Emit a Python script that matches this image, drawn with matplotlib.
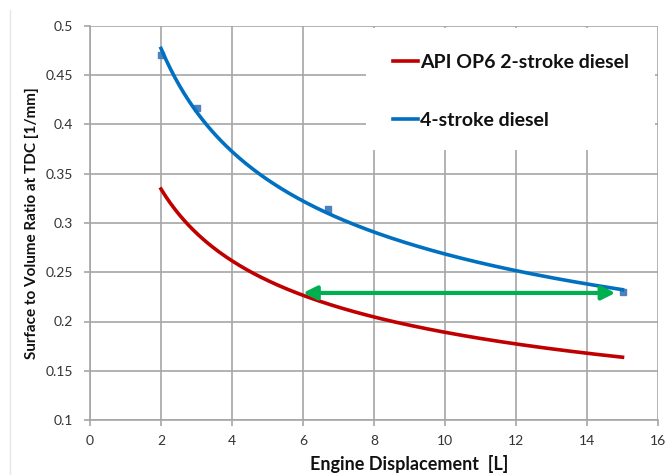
import numpy as np
import matplotlib
matplotlib.use("Agg")
import matplotlib.pyplot as plt
from matplotlib.patches import Rectangle

# values
x_2stroke = [2, 3, 4, 6, 8, 10, 12, 15]
y_2stroke = [0.334, 0.289, 0.262, 0.228, 0.205, 0.189, 0.176, 0.164]

x_4stroke = [2, 3, 6.7, 15]
y_4stroke = [0.471, 0.417, 0.314, 0.230]

arrow_x = [6.0, 14.8]
arrow_y = 0.229

label_2 = "API OP6 2-stroke diesel"
label_4 = "4-stroke diesel"

RED = "#c00000"
BLUE = "#0070c0"
GREEN = "#00b050"
GRID = "#a6a6a6"
TXT = "#333333"

plt.rcParams['font.family'] = ['Lato', 'DejaVu Sans']


def power_trend(xs, ys):
	# excel style power trendline  y = a*x^b
	b, lna = np.polyfit(np.log(xs), np.log(ys), 1)
	xx = np.linspace(min(xs), max(xs), 200)
	return xx, np.exp(lna) * xx ** b


fig = plt.figure(figsize=(6.65, 4.75), dpi=100)
ax = fig.add_axes([90/665, 1-420/475, 568/665, 394/475])

# thin border of the chart area on the left
fig.add_artist(plt.Line2D([10/665, 10/665], [0, 1-10/475], color="#e6e6e6", lw=1))

ax.set_xlim(0, 16)
ax.set_ylim(0.1, 0.5)
ax.set_xticks(np.arange(0, 17, 2))
ax.set_yticks([0.1, 0.15, 0.2, 0.25, 0.3, 0.35, 0.4, 0.45, 0.5])
ax.set_yticklabels(["0.1", "0.15", "0.2", "0.25", "0.3", "0.35", "0.4", "0.45", "0.5"])
ax.grid(True, color=GRID, lw=1.2, zorder=0)
ax.set_axisbelow(True)
for s in ["top", "right"]:
	ax.spines[s].set_visible(False)
for s in ["left", "bottom"]:
	ax.spines[s].set_color(GRID)
	ax.spines[s].set_linewidth(1.2)
ax.tick_params(colors=GRID, labelcolor=TXT, labelsize=10, length=4, width=1.2)
ax.tick_params(axis="y", pad=8)
ax.tick_params(axis="x", pad=7)

# white box behind the legend hides the grid there
ax.add_patch(Rectangle((0.486, 0.685), 0.508, 0.31, transform=ax.transAxes,
	facecolor="white", edgecolor="none", zorder=1.5))

xr, yr = power_trend(x_2stroke, y_2stroke)
ax.plot(xr, yr, color=RED, lw=2.6, zorder=3, label=label_2)

xb, yb = power_trend(x_4stroke, y_4stroke)
ax.plot(xb, yb, color=BLUE, lw=2.6, zorder=3, label=label_4)
ax.plot(x_4stroke, y_4stroke, "s", color="#4f81bd", ms=5, zorder=2.8)

ax.annotate("", xy=(arrow_x[0], arrow_y), xytext=(arrow_x[1], arrow_y),
	arrowprops=dict(arrowstyle="<|-|>", color=GREEN, lw=3, mutation_scale=20,
	shrinkA=0, shrinkB=0), zorder=4)

leg = ax.legend(loc="upper left", bbox_to_anchor=(0.533, 0.93), frameon=False,
	borderpad=0, borderaxespad=0, handlelength=1.3, handletextpad=0.1,
	labelspacing=2.12, prop=dict(weight="bold", size=14))
for t in leg.get_texts():
	t.set_color("#111111")

ax.set_xlabel("Engine Displacement  [L]", fontsize=13, fontweight="bold", color="#111111", va="center")
ax.xaxis.set_label_coords(0.562, -0.111)
ax.set_ylabel("Surface to Volume Ratio at TDC [1/mm]", fontsize=11, fontweight="bold", color="#111111", labelpad=5)

fig.savefig("out.png", dpi=100)
